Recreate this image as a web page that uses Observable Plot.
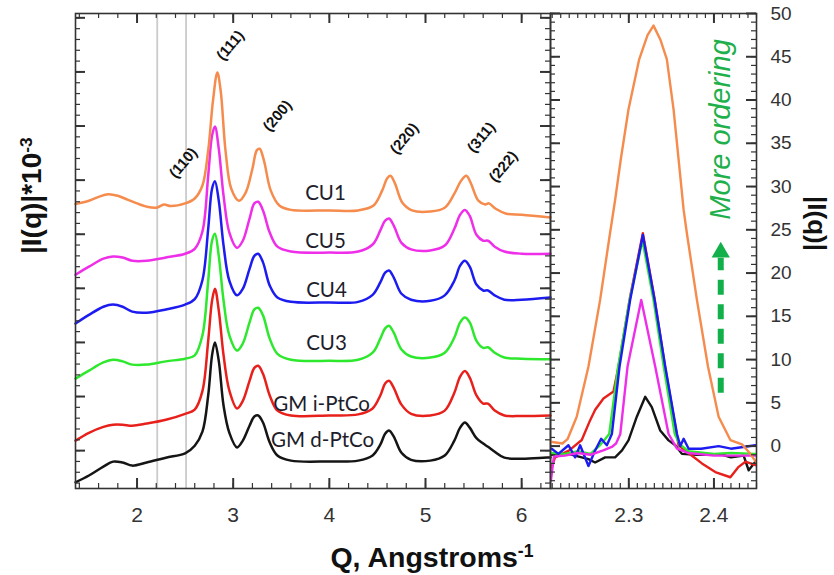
<!DOCTYPE html>
<html><head><meta charset="utf-8">
<script src="https://cdn.jsdelivr.net/npm/d3@7"></script>
<script src="https://cdn.jsdelivr.net/npm/@observablehq/plot@0.6"></script>
<style>
body{margin:0;background:#fff}
#wrap{position:relative;width:834px;height:575px;overflow:hidden;background:#fff}
</style>
</head><body><div id="wrap"></div>
<script>
// ---------- DATA ----------
const seriesNames  = ["GM d-PtCo","GM i-PtCo","CU3","CU4","CU5","CU1"];
const seriesColors = ["#151515","#e8201c","#2ee82e","#1c1cf0","#ee2ee8","#f58b4c"];

// left panel: shared Q grid for five curves, (offset intensity, arbitrary units)
const qLeft = [1.36,1.5,1.65,1.75,1.85,1.95,2.1,2.3,2.5,2.6,2.68,2.74,2.78,2.81,2.85,2.9,2.96,3.04,3.1,3.17,3.22,3.26,3.31,3.38,3.46,3.6,4.0,4.3,4.45,4.53,4.58,4.62,4.67,4.75,4.85,5.05,5.2,5.3,5.36,5.41,5.46,5.53,5.6,5.65,5.72,5.82,6.0,6.3];
const iGMd = [-5.86,-4.6,-2.96,-2.03,-2.2,-2.77,-2.2,-1.3,-0.5,0.9,3.5,10.2,17.6,20.0,16.6,8.3,3.3,0.6,1.85,4.6,6.3,6.5,5.2,1.5,-0.9,-1.85,-2.0,-1.85,-0.9,1.1,3.1,3.7,2.6,-0.4,-1.7,-1.85,-0.9,1.85,4.25,5.2,4.25,2.3,1.3,0.7,-0.2,-1.3,-1.5,-1.24];
const iGMi = [1.85,3.3,4.4,4.8,4.8,4.6,5.0,5.7,6.8,7.6,11.0,20.3,27.7,29.9,25.9,17.6,11.1,7.8,9.2,12.9,15.3,15.7,14.2,10.2,7.4,6.5,6.5,6.7,7.8,10.2,12.4,12.9,11.6,8.5,6.8,6.5,7.4,10.7,13.7,14.7,13.5,10.2,8.7,8.7,7.4,6.5,6.4,6.5];
const iCU3 = [13.3,14.8,16.3,16.8,16.5,15.9,15.9,16.5,17.0,17.6,21.3,31.4,38.8,40.1,36.0,27.7,21.3,18.5,19.8,23.7,26.1,26.4,25.0,20.7,17.9,16.8,16.6,16.8,18.1,20.7,22.6,23.1,21.8,18.7,17.4,17.2,18.1,20.9,23.7,24.6,23.7,20.3,19.0,19.1,18.1,17.2,17.0,16.9];
const iCU4 = [23.5,25.1,26.6,27.0,26.6,25.7,25.5,26.1,27.0,28.0,31.5,41.0,48.4,49.8,46.2,37.9,31.4,28.7,29.9,33.6,36.0,36.4,34.8,30.5,28.3,27.5,27.4,27.5,28.8,31.1,32.9,33.3,32.0,29.0,27.9,27.7,28.7,31.4,34.2,35.1,34.0,30.7,29.6,29.6,28.7,27.9,27.9,28.3];
const iCU5 = [32.5,34.0,35.5,35.9,35.7,35.1,35.1,35.7,36.4,37.3,40.5,50.8,58.2,59.9,55.8,47.1,40.3,37.5,38.8,42.9,45.7,46.0,44.4,40.3,37.7,36.8,36.6,36.8,38.1,40.7,42.5,42.9,41.6,38.4,37.2,37.0,37.9,41.0,43.6,44.5,43.4,39.9,38.8,38.8,37.7,36.8,36.4,36.4];
// CU1 has its own grid (peaks slightly shifted)
const qCU1 = [1.36,1.5,1.6,1.7,1.8,1.9,2.0,2.1,2.2,2.28,2.35,2.5,2.6,2.68,2.74,2.79,2.835,2.87,2.92,2.98,3.06,3.13,3.2,3.245,3.275,3.32,3.39,3.48,3.6,4.0,4.3,4.46,4.55,4.6,4.635,4.68,4.76,4.86,5.05,5.2,5.3,5.37,5.425,5.47,5.55,5.62,5.66,5.73,5.84,6.0,6.3];
const iCU1 = [45.6,46.2,46.9,47.4,47.1,46.4,45.7,45.1,44.9,45.5,45.2,45.7,46.6,49.0,55.5,64.7,69.9,66.5,55.5,48.4,46.2,47.7,52.1,55.5,55.8,53.6,48.1,45.3,44.5,44.4,44.4,45.3,48.1,50.3,50.8,49.5,45.8,44.4,44.2,44.9,47.5,49.9,50.8,49.5,46.2,45.5,45.7,44.7,43.8,43.6,43.1];

// right panel: |I(q)| zoom near Q = 2.3
const rqGMd = [2.209,2.2173,2.2291,2.2447,2.2526,2.2604,2.2722,2.2839,2.292,2.2996,2.3094,2.3193,2.327,2.3369,2.3467,2.3546,2.3624,2.38,2.41,2.42,2.4349,2.4408,2.4487];
const riGMd = [-1.0,-0.9,-0.9,-1.3,-1.5,-1.9,-1.3,-1.3,-0.5,0.66,3.4,5.7,4.5,1.8,0.66,0.1,-0.9,-1.0,-1.0,-1.3,-1.1,-2.8,-1.8];
const rqGMi = [2.209,2.2134,2.23,2.2447,2.2546,2.2605,2.2702,2.282,2.2879,2.3016,2.3165,2.3303,2.3428,2.3566,2.3585,2.37,2.3859,2.4016,2.4193,2.429,2.437,2.4487];
const riGMi = [-2.5,-1.3,-0.5,0.7,3.0,4.2,5.5,6.3,9.2,17.3,24.6,17.0,9.0,1.2,0.1,-0.8,-2.0,-3.0,-3.6,-2.4,-1.8,-2.2];
const rqCU3 = [2.209,2.225,2.24,2.255,2.265,2.272,2.277,2.2875,2.301,2.316,2.329,2.341,2.354,2.36,2.37,2.4,2.42,2.4487];
const riCU3 = [-0.8,-0.9,-0.6,-0.9,0,0.8,1.4,9.2,16.9,23.8,16.9,9.2,1.4,0.2,-0.6,-0.9,-0.8,-0.9];
const rqCU4 = [2.2094,2.2173,2.2291,2.237,2.2428,2.2526,2.2604,2.2675,2.2742,2.2801,2.2891,2.3016,2.3165,2.3303,2.3428,2.3566,2.3605,2.3644,2.3703,2.385,2.4056,2.42,2.4487];
const riCU4 = [-0.3,-0.9,0.1,-1.3,0.1,-2.3,-0.5,0.85,0.1,1.4,9.2,16.9,24.4,16.9,9.2,1.4,0.0,0.85,-0.3,-0.3,0.0,-0.3,0.1];
const rqCU5 = [2.2085,2.212,2.225,2.24,2.255,2.27,2.28,2.285,2.29,2.2985,2.3146,2.331,2.3467,2.3566,2.37,2.4,2.4487];
const riCU5 = [-4.0,-1.2,-1.1,-0.8,-1.0,-0.5,-0.1,0.3,1.4,9.2,16.9,9.2,1.4,-0.3,-0.8,-1.1,-1.1];
const rqCU1 = [2.208,2.222,2.228,2.2388,2.2526,2.2663,2.277,2.284,2.2905,2.2996,2.3122,2.322,2.329,2.337,2.3447,2.3526,2.3585,2.3644,2.3682,2.38,2.393,2.4055,2.4193,2.433,2.442,2.4506];
const riCU1 = [0.5,0.3,0.8,3.4,9.2,16.9,24.0,28.5,33.1,38.9,44.7,47.5,48.6,47.0,44.7,38.9,33.1,27.3,24.6,16.9,9.2,3.4,0.7,0.2,-0.8,-2.0];

// annotations
const grayLinesQ = [2.21, 2.51];
const peakNames = ["(110)","(111)","(200)","(220)","(311)","(222)"];
const peakQ     = [2.48, 2.97, 3.46, 4.78, 5.58, 5.81];
const peakV     = [53.2, 74.9, 61.9, 57.7, 57.9, 52.5];
const labelNames = ["CU1","CU5","CU4","CU3","GM i-PtCo","GM d-PtCo"];
const labelQ     = [3.96, 3.96, 3.97, 3.97, 3.92, 3.93];
const labelV     = [47.6, 38.7, 29.6, 19.9, 8.5, 1.85];
const arrowQ = 2.408, arrowFrom = 6.1, arrowTo = 21.7, arrowHead = 22.4;
const orderText = "More ordering", orderV = 36.6;

// axes tick labels
const xTicksL = [2,3,4,5,6];
const xTicksR = [2.3, 2.4];
const yTicksR = [0,5,10,15,20,25,30,35,40,45,50];

// ---------- TABLES ----------
const leftCols = {"GM d-PtCo":[qLeft,iGMd],"GM i-PtCo":[qLeft,iGMi],"CU3":[qLeft,iCU3],"CU4":[qLeft,iCU4],"CU5":[qLeft,iCU5],"CU1":[qCU1,iCU1]};
const rightCols = {"GM d-PtCo":[rqGMd,riGMd],"GM i-PtCo":[rqGMi,riGMi],"CU3":[rqCU3,riCU3],"CU4":[rqCU4,riCU4],"CU5":[rqCU5,riCU5],"CU1":[rqCU1,riCU1]};
function table(cols){const rows=[];for(const s of seriesNames){const [q,v]=cols[s];q.forEach((x,i)=>rows.push({s,q:x,v:v[i]}));}return rows;}
const leftRows = table(leftCols), rightRows = table(rightCols);

const ink = "#333";
const FH = 475; // frame height (px)
function tX(vals,len,sw,side,FHt){const o={x:d=>d,stroke:ink,strokeWidth:sw};o[side==="bottom"?"insetTop":"insetBottom"]=FHt-len;return Plot.tickX(vals,o);}
function tY(vals,len,sw,side,FW){const o={y:d=>d,stroke:ink,strokeWidth:sw};o[side==="left"?"insetRight":"insetLeft"]=FW-len;return Plot.tickY(vals,o);}

const font = "'Liberation Sans', Arial, sans-serif";

// ---------- LEFT PANEL ----------
const xMinL = d3.range(1.4, 6.31, 0.2), yMajL = d3.range(0, 81, 10), yMinL = d3.range(-6, 81, 2);
const FWL = 475;
const left = Plot.plot({
  width: 834, height: 575, marginLeft: 75, marginRight: 284, marginTop: 13, marginBottom: 87,
  style: {fontFamily: font, fontSize: "22px", color: "#222", position: "absolute", left: "0px", top: "0px", background: "white", overflow: "visible"},
  x: {domain: [1.36, 6.30]},
  y: {domain: [-7, 80.8], axis: null},
  color: {domain: seriesNames, range: seriesColors},
  marks: [
    Plot.ruleX(grayLinesQ, {x: d=>d, stroke: "#cbcbcb", strokeWidth: 1.8}),
    Plot.line(leftRows, {x: "q", y: "v", z: "s", stroke: "s", strokeWidth: 2.5, curve: "catmull-rom"}),
    Plot.text(labelNames, {x: (d,i)=>labelQ[i], y: (d,i)=>labelV[i], text: d=>d, fontFamily: "Lato, 'Open Sans', sans-serif", fontSize: 20.5, fill: "#1d1d2b"}),
    Plot.text(peakNames, {x: (d,i)=>peakQ[i], y: (d,i)=>peakV[i], text: d=>d, rotate: -50, fontSize: 15, fontWeight: "bold", fill: "#111"}),
    tX(xTicksL, 10, 2, "bottom", FH), tX(xMinL, 5, 1.2, "bottom", FH),
    tX(xTicksL, 10, 2, "top", FH), tX(xMinL, 5, 1.2, "top", FH),
    tY(yMajL, 10, 2, "left", FWL), tY(yMinL, 5, 1.2, "left", FWL),
    tY(yMajL, 10, 2, "right", FWL), tY(yMinL, 5, 1.2, "right", FWL),
    Plot.frame({stroke: ink, strokeWidth: 1.6}),
    Plot.axisX({ticks: xTicksL, tickSize: 0, tickPadding: 19, fontSize: 21, tickFormat: d=>String(d), label: null, fill: "#333"}),
    Plot.text(["|I(q)|*10"], {frameAnchor: "left", dx: -43, dy: 3, rotate: -90, fontSize: 28, fontWeight: "bold", fill: "#111", lineAnchor: "middle"}),
    Plot.text(["Q, Angstroms"], {frameAnchor: "bottom", dx: 119, dy: 69, fontSize: 28.5, fontWeight: "bold", fill: "#111", lineAnchor: "middle"})
  ]
});

// ---------- RIGHT PANEL ----------
const xMinR = d3.range(2.21, 2.4505, 0.01), yMinR = d3.range(-4, 50.5, 1);
const FWR = 206;
const right = Plot.plot({
  width: 294, height: 575, marginLeft: 10, marginRight: 78, marginTop: 13, marginBottom: 87,
  style: {fontFamily: font, fontSize: "20px", color: "#222", position: "absolute", left: "540px", top: "0px", background: "transparent", overflow: "visible"},
  x: {domain: [2.208, 2.45]},
  y: {domain: [-4.9, 50]},
  color: {domain: seriesNames, range: seriesColors},
  marks: [
    Plot.line(rightRows, {x: "q", y: "v", z: "s", stroke: "s", strokeWidth: 2.4, curve: "linear", clip: true}),
    Plot.ruleX([arrowQ], {x: d=>d, y1: arrowFrom, y2: arrowTo, stroke: "#12b04a", strokeWidth: 6, strokeDasharray: "15 9.5"}),
    Plot.dot([arrowQ], {x: d=>d, y: arrowHead, symbol: "triangle", r: 6.8, fill: "#12b04a", stroke: "none"}),
    Plot.text([orderText], {x: arrowQ, y: orderV, rotate: -90, fontSize: 29, fontStyle: "italic", fill: "#1fb04c"}),
    tX(xTicksR, 10, 2, "bottom", FH), tX(xMinR, 5, 1.2, "bottom", FH),
    tX(xTicksR, 10, 2, "top", FH), tX(xMinR, 5, 1.2, "top", FH),
    tY(yTicksR, 10, 2, "left", FWR), tY(yMinR, 5, 1.2, "left", FWR),
    tY(yTicksR, 10, 2, "right", FWR), tY(yMinR, 5, 1.2, "right", FWR),
    Plot.frame({stroke: ink, strokeWidth: 1.6}),
    Plot.axisX({ticks: xTicksR, tickSize: 0, tickPadding: 19, fontSize: 21, tickFormat: d3.format(".1f"), label: null, fill: "#333"}),
    Plot.axisY({anchor: "right", ticks: yTicksR, tickSize: 0, tickPadding: 14, fontSize: 19, tickFormat: d=>String(d), label: null, fill: "#333"}),
    Plot.text(["|I(q)|"], {frameAnchor: "right", dx: 60, rotate: 90, fontSize: 26, fontWeight: "bold", fill: "#111", lineAnchor: "middle"})
  ]
});

const wrap = document.getElementById("wrap");
wrap.appendChild(left);
wrap.appendChild(right);

function addSup(svg, base, sup){
  svg.querySelectorAll("text").forEach(t=>{
    if (t.textContent === base) {
      const ts = document.createElementNS("http://www.w3.org/2000/svg","tspan");
      ts.setAttribute("dy","-0.55em");
      ts.setAttribute("font-size","0.62em");
      ts.textContent = sup;
      t.appendChild(ts);
    }
  });
}
addSup(left, "|I(q)|*10", "-3");
addSup(left, "Q, Angstroms", "-1");
</script></body></html>
